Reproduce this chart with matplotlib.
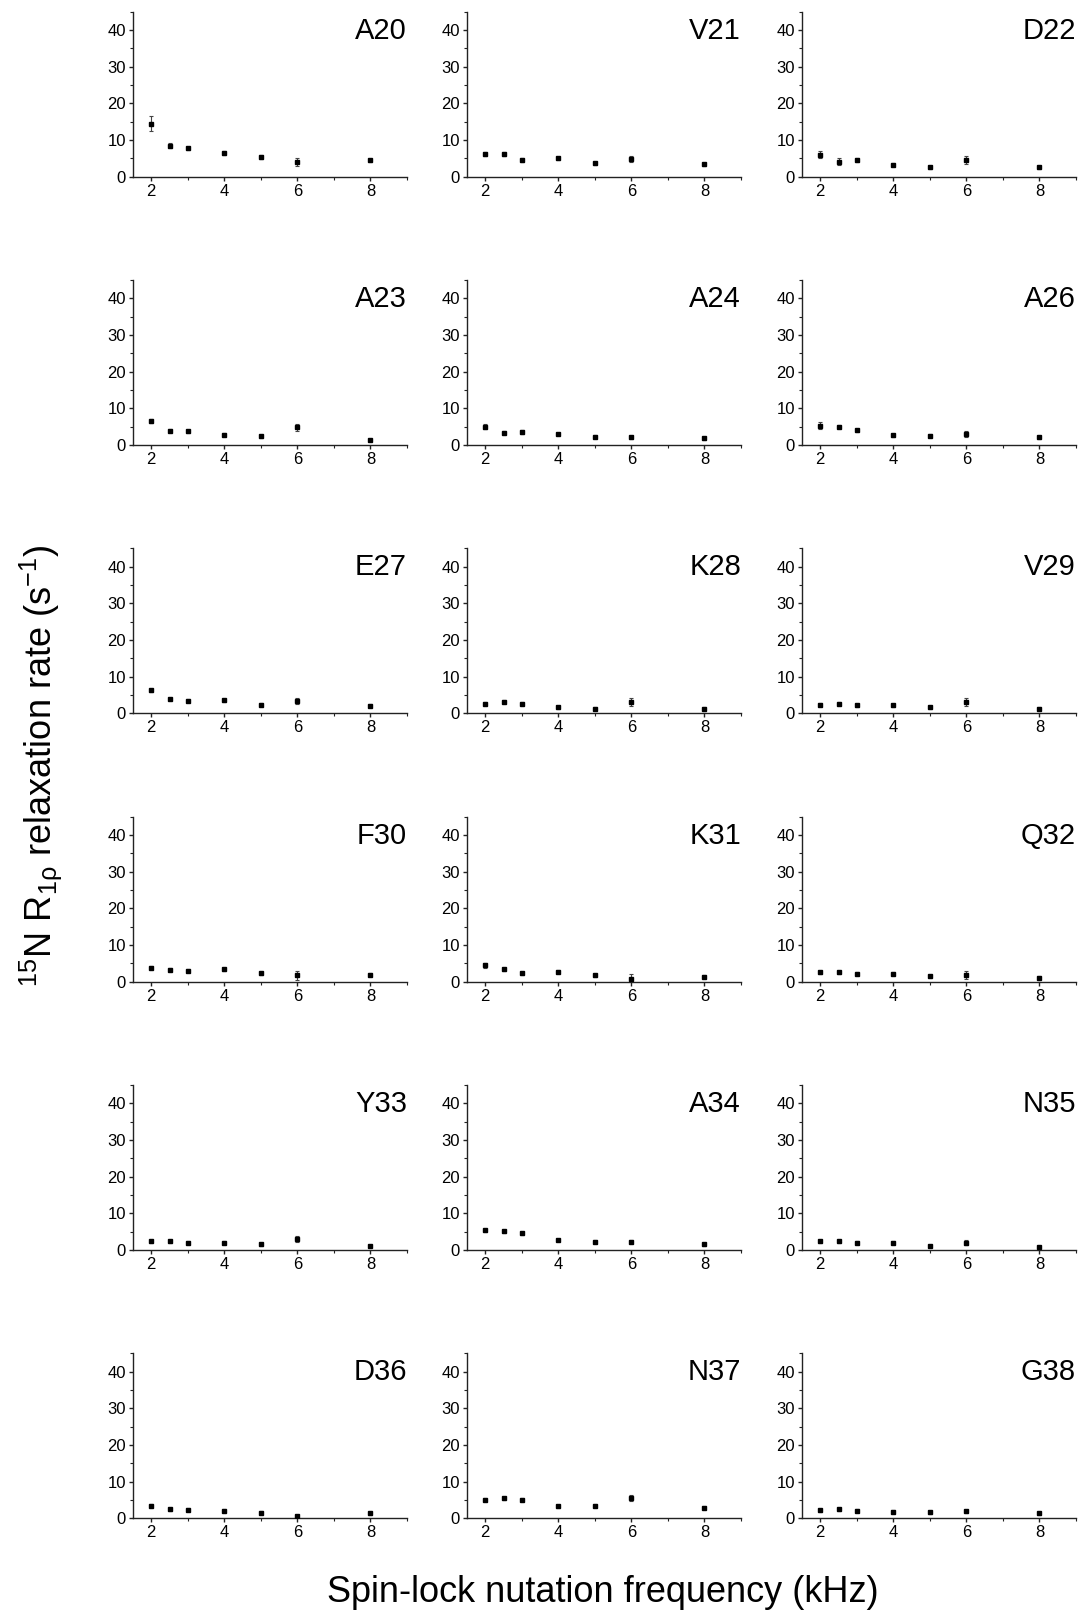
import matplotlib
matplotlib.use("Agg")
import matplotlib.pyplot as plt
from matplotlib.ticker import MultipleLocator

plt.rcParams["font.family"] = ["Liberation Sans", "DejaVu Sans"]
plt.rcParams["mathtext.fontset"] = "custom"
plt.rcParams["mathtext.rm"] = "Liberation Sans"
plt.rcParams["mathtext.it"] = "Liberation Sans"
plt.rcParams["mathtext.default"] = "regular"

# Spin-lock nutation frequencies (kHz)
freq = [2.0, 2.5, 3.0, 4.0, 5.0, 6.0, 8.0]

residues = ["A20", "V21", "D22",
            "A23", "A24", "A26",
            "E27", "K28", "V29",
            "F30", "K31", "Q32",
            "Y33", "A34", "N35",
            "D36", "N37", "G38"]

# 15N R1rho relaxation rates (s^-1) per residue
r1rho = {
    "A20": [14.5, 8.4, 7.8, 6.5, 5.4, 4.0, 4.5],
    "V21": [6.2, 6.2, 4.6, 5.0, 3.7, 4.9, 3.4],
    "D22": [6.0, 4.1, 4.6, 3.3, 2.6, 4.6, 2.6],
    "A23": [6.6, 3.9, 3.7, 2.8, 2.4, 4.8, 1.3],
    "A24": [5.0, 3.4, 3.6, 3.0, 2.3, 2.1, 1.9],
    "A26": [5.3, 5.0, 4.0, 2.7, 2.5, 3.1, 2.1],
    "E27": [6.3, 3.9, 3.4, 3.6, 2.4, 3.4, 2.1],
    "K28": [2.6, 3.2, 2.6, 1.6, 1.3, 3.0, 1.3],
    "V29": [2.4, 2.6, 2.2, 2.2, 1.6, 3.2, 1.3],
    "F30": [3.8, 3.2, 3.0, 3.4, 2.3, 1.7, 1.9],
    "K31": [4.4, 3.4, 2.3, 2.7, 1.7, 0.8, 1.3],
    "Q32": [2.5, 2.5, 2.1, 2.1, 1.4, 1.9, 1.1],
    "Y33": [2.4, 2.4, 2.0, 2.0, 1.5, 2.9, 1.0],
    "A34": [5.4, 5.1, 4.5, 2.7, 2.2, 2.2, 1.5],
    "N35": [2.4, 2.4, 2.0, 2.0, 1.1, 2.0, 0.9],
    "D36": [3.4, 2.5, 2.3, 2.1, 1.5, 0.6, 1.3],
    "N37": [5.1, 5.5, 5.1, 3.2, 3.4, 5.4, 2.8],
    "G38": [2.2, 2.4, 2.0, 1.8, 1.6, 1.9, 1.3],
}

# Fit uncertainties (s^-1)
r1rho_err = {
    "A20": [2.0, 0.7, 0.4, 0.5, 0.5, 1.2, 0.4],
    "V21": [0.5, 0.5, 0.5, 0.5, 0.4, 0.8, 0.4],
    "D22": [1.0, 0.9, 0.5, 0.4, 0.4, 1.0, 0.4],
    "A23": [0.6, 0.4, 0.4, 0.4, 0.4, 1.0, 0.3],
    "A24": [0.6, 0.4, 0.5, 0.4, 0.4, 0.4, 0.4],
    "A26": [0.9, 0.4, 0.5, 0.4, 0.4, 0.8, 0.4],
    "E27": [0.4, 0.4, 0.4, 0.4, 0.4, 0.8, 0.4],
    "K28": [0.4, 0.4, 0.4, 0.3, 0.3, 1.1, 0.3],
    "V29": [0.4, 0.4, 0.4, 0.4, 0.3, 1.1, 0.3],
    "F30": [0.4, 0.4, 0.4, 0.4, 0.4, 1.3, 0.4],
    "K31": [0.8, 0.4, 0.4, 0.4, 0.4, 1.2, 0.4],
    "Q32": [0.4, 0.4, 0.4, 0.4, 0.3, 1.1, 0.3],
    "Y33": [0.4, 0.4, 0.4, 0.4, 0.4, 0.8, 0.3],
    "A34": [0.4, 0.4, 0.4, 0.4, 0.4, 0.4, 0.4],
    "N35": [0.4, 0.4, 0.4, 0.4, 0.3, 0.6, 0.3],
    "D36": [0.4, 0.4, 0.4, 0.4, 0.4, 0.3, 0.4],
    "N37": [0.4, 0.4, 0.4, 0.4, 0.4, 0.8, 0.4],
    "G38": [0.4, 0.4, 0.4, 0.4, 0.4, 0.4, 0.3],
}

W, H = 1084, 1613
fig = plt.figure(figsize=(W / 100, H / 100), dpi=100)

col_left = [133, 467, 802]
ax_w, ax_h = 274, 165
row_top0, row_step = 11.7, 268.3

for i, res in enumerate(residues):
    r, c = divmod(i, 3)
    top = row_top0 + r * row_step
    ax = fig.add_axes([col_left[c] / W, 1 - (top + ax_h) / H, ax_w / W, ax_h / H])
    ax.errorbar(freq, r1rho[res], yerr=r1rho_err[res], fmt="s", ms=3.5,
                mfc="black", mec="black", ecolor="#444444", elinewidth=0.8,
                capsize=1.6, capthick=0.8, zorder=3)
    ax.set_xlim(1.5, 9)
    ax.set_ylim(0, 45)
    ax.xaxis.set_major_locator(MultipleLocator(2))
    ax.xaxis.set_minor_locator(MultipleLocator(1))
    ax.yaxis.set_major_locator(MultipleLocator(10))
    ax.yaxis.set_minor_locator(MultipleLocator(5))
    ax.spines["top"].set_visible(False)
    ax.spines["right"].set_visible(False)
    for s in ("left", "bottom"):
        ax.spines[s].set_linewidth(1.0)
        ax.spines[s].set_color("#222222")
    ax.tick_params(which="major", direction="out", length=3, width=1.0,
                   labelsize=12, pad=2, color="#222222")
    ax.tick_params(which="minor", direction="out", length=2, width=0.8,
                   color="#222222")
    ax.text(1.0, 0.97, res, transform=ax.transAxes, ha="right", va="top",
            fontsize=21)

fig.text(603 / W, 1 - 1592 / H, "Spin-lock nutation frequency (kHz)",
         ha="center", va="center", fontsize=26)
fig.text(41 / W, 1 - 766 / H,
         r"$^{15}$N R$_{1\rho}$ relaxation rate (s$^{-1}$)",
         ha="center", va="center", rotation=90, fontsize=26)

fig.savefig("out.png", dpi=100)
